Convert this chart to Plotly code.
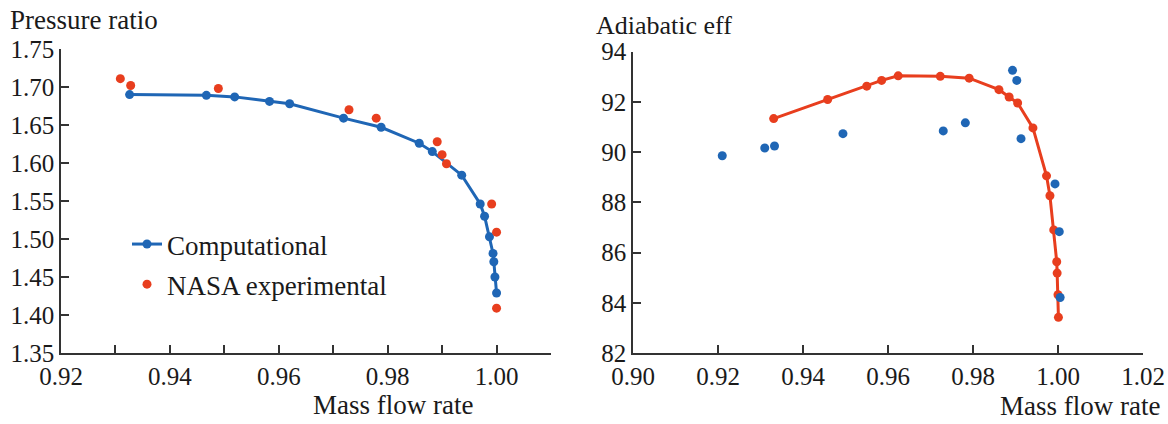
import plotly.graph_objects as go

# ---- Data: Pressure ratio vs mass flow rate ----
pr_comp_x = [0.9326, 0.9467, 0.9519, 0.9583, 0.9620, 0.9719, 0.9788, 0.9858, 0.9882,
             0.9936, 0.9970, 0.9978, 0.9987, 0.99935, 0.9995, 0.9997, 1.0000]
pr_comp_y = [1.690, 1.689, 1.687, 1.681, 1.678, 1.659, 1.647, 1.626, 1.615,
             1.584, 1.546, 1.530, 1.503, 1.481, 1.470, 1.450, 1.429]
pr_exp_x = [0.9309, 0.9328, 0.9489, 0.9729, 0.9779, 0.9891, 0.9900, 0.9908, 0.9991, 1.0000, 1.0000]
pr_exp_y = [1.711, 1.702, 1.698, 1.670, 1.659, 1.628, 1.611, 1.599, 1.546, 1.509, 1.409]

# ---- Data: Adiabatic efficiency vs mass flow rate ----
eff_comp_x = [0.9331, 0.9458, 0.9550, 0.9585, 0.9624, 0.9723, 0.9791, 0.9861, 0.9885,
              0.9905, 0.9941, 0.9973, 0.9981, 0.9990, 0.9997, 0.9998, 1.0000, 1.0001]
eff_comp_y = [91.33, 92.09, 92.62, 92.85, 93.03, 93.01, 92.94, 92.48, 92.19,
              91.95, 90.96, 89.05, 88.26, 86.90, 85.63, 85.18, 84.32, 83.42]
eff_exp_x = [0.9210, 0.9310, 0.9333, 0.9494, 0.9730, 0.9782, 0.9893, 0.9903, 0.9913,
             0.9993, 1.0003, 1.0005]
eff_exp_y = [89.85, 90.16, 90.24, 90.73, 90.84, 91.16, 93.25, 92.85, 90.53,
             88.73, 86.83, 84.21]

BLUE = "#1f66b5"
RED = "#e83e1e"
FONT = "Liberation Serif"
TXT = "#1a1a1a"
AX = "#333333"
W, H = 1168, 424

fig = go.Figure()

fig.add_trace(go.Scatter(x=pr_comp_x, y=pr_comp_y, mode="lines+markers", name="Computational",
                         line=dict(color=BLUE, width=3), marker=dict(color=BLUE, size=9),
                         xaxis="x", yaxis="y", legendgroup="a"))
fig.add_trace(go.Scatter(x=pr_exp_x, y=pr_exp_y, mode="markers", name="NASA experimental",
                         marker=dict(color=RED, size=9), xaxis="x", yaxis="y", legendgroup="b"))
fig.add_trace(go.Scatter(x=eff_comp_x, y=eff_comp_y, mode="lines+markers", showlegend=False,
                         line=dict(color=RED, width=3), marker=dict(color=RED, size=9),
                         xaxis="x2", yaxis="y2"))
fig.add_trace(go.Scatter(x=eff_exp_x, y=eff_exp_y, mode="markers", showlegend=False,
                         marker=dict(color=BLUE, size=9), xaxis="x2", yaxis="y2"))

def px_x(p):
    return p / W

def px_y(p):
    return 1 - p / H

common = dict(showline=True, linecolor=AX, linewidth=1.5, ticks="inside", ticklen=8,
              tickwidth=1.5, tickcolor=AX, showgrid=False, zeroline=False, automargin=False,
              tickfont=dict(family=FONT, size=25, color=TXT))

fig.update_layout(
    width=W, height=H, margin=dict(l=0, r=0, t=0, b=0, autoexpand=False),
    paper_bgcolor="white", plot_bgcolor="white",
    xaxis=dict(domain=[px_x(61), px_x(551)], range=[0.92, 1.01], dtick=0.02, tick0=0.92,
               tickformat=".2f", anchor="y",
               minor=dict(dtick=0.01, ticks="inside", ticklen=8, tickwidth=1.5, tickcolor=AX),
               **common),
    yaxis=dict(domain=[px_y(353), px_y(49)], range=[1.35, 1.75], dtick=0.05, tick0=1.35,
               tickformat=".2f", anchor="x", **common),
    xaxis2=dict(domain=[px_x(633), px_x(1143)], range=[0.90, 1.02], dtick=0.02, tick0=0.90,
                tickformat=".2f", anchor="y2", **common),
    yaxis2=dict(domain=[px_y(353), px_y(51.5)], range=[82, 94], dtick=2, tick0=82,
                anchor="x2", **common),
    legend=dict(x=px_x(127), y=px_y(220), xanchor="left", yanchor="top",
                font=dict(family=FONT, size=27, color=TXT), bgcolor="rgba(0,0,0,0)",
                tracegroupgap=2, traceorder="grouped"),
    showlegend=True,
)

ann_font = dict(family=FONT, size=27, color=TXT)
fig.add_annotation(text="Pressure ratio", x=px_x(8), y=px_y(20), xref="paper", yref="paper",
                   xanchor="left", yanchor="middle", showarrow=False, font=ann_font)
fig.add_annotation(text="Adiabatic eff", x=px_x(594), y=px_y(25), xref="paper", yref="paper",
                   xanchor="left", yanchor="middle", showarrow=False,
                   font=dict(family=FONT, size=26, color=TXT))
fig.add_annotation(text="Mass flow rate", x=px_x(393), y=px_y(405), xref="paper", yref="paper",
                   xanchor="center", yanchor="middle", showarrow=False, font=ann_font)
fig.add_annotation(text="Mass flow rate", x=px_x(1080), y=px_y(406), xref="paper", yref="paper",
                   xanchor="center", yanchor="middle", showarrow=False, font=ann_font)

fig.write_html("out.html", config={"displayModeBar": False},
               post_script="document.body.style.margin='0';document.body.style.overflow='hidden';")
